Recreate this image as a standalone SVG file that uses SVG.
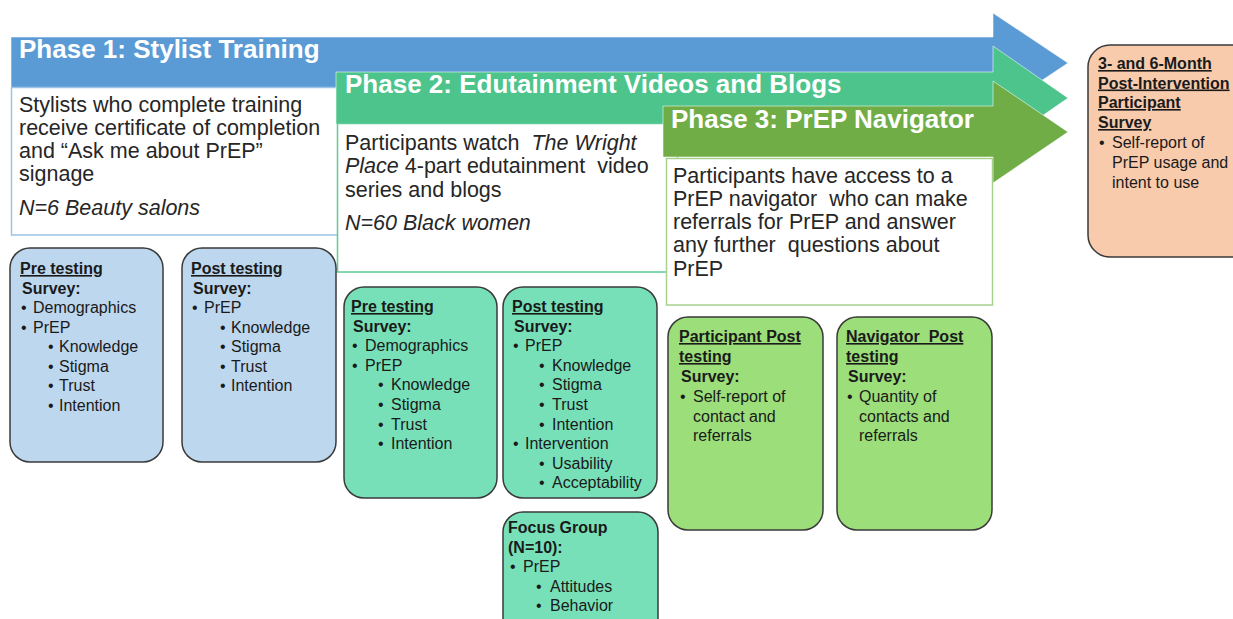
<svg xmlns="http://www.w3.org/2000/svg" width="1233" height="619" viewBox="0 0 1233 619">
  <style>
    .title { font-family: "Liberation Sans", Arial, sans-serif; font-weight: bold; font-size: 26px; fill: #ffffff; }
    .body { font-family: "Liberation Sans", Arial, sans-serif; font-size: 21.5px; fill: #262626; }
    .it { font-style: italic; }
    .sm { font-family: "Liberation Sans", Arial, sans-serif; font-size: 16px; fill: #1a1a1a; }
    .hd { font-weight: bold; }
    .ul { text-decoration: underline; }
    .card { stroke: #3a3a3a; stroke-width: 1.5; }
    .arrow { stroke: #ffffff; stroke-opacity: 0.55; stroke-width: 1; }
  </style>

  <rect width="1233" height="619" fill="#ffffff"/>

  <!-- Phase arrows and their description panels (drawn back to front) -->
  <g id="connectors">
    <path class="arrow" d="M11,37 H993 V13 L1068,63 L993,113 V89 H11 Z" fill="#5B9BD5"/>
  </g>

  <g id="phase1">
    <rect x="11.5" y="87.5" width="340" height="147.5" fill="#ffffff" stroke="#9DC3E6" stroke-width="1.5"/>
    <text class="title" x="19" y="58">Phase 1: Stylist Training</text>
    <text class="body" x="19" y="112">Stylists who complete training</text>
    <text class="body" x="19" y="135">receive certificate of completion</text>
    <text class="body" x="19" y="158">and “Ask me about PrEP”</text>
    <text class="body" x="19" y="181">signage</text>
    <text class="body it" x="19" y="215">N=6 Beauty salons</text>
  </g>

  <g id="phase2-arrow">
    <path class="arrow" d="M336,72 H993 V46 L1068,98 L993,150 V124 H336 Z" fill="#4DC48B"/>
  </g>

  <g id="phase2">
    <rect x="337.5" y="123.5" width="340" height="148.5" fill="#ffffff" stroke="#5CCB95" stroke-width="1.5"/>
    <text class="title" x="345" y="93">Phase 2: Edutainment Videos and Blogs</text>
    <text class="body" x="345" y="150" xml:space="preserve">Participants watch  <tspan class="it">The Wright</tspan></text>
    <text class="body" x="345" y="173" xml:space="preserve"><tspan class="it">Place</tspan> 4-part edutainment  video</text>
    <text class="body" x="345" y="197">series and blogs</text>
    <text class="body it" x="345" y="230">N=60 Black women</text>
  </g>

  <g id="phase3-arrow">
    <path class="arrow" d="M663,106 H993 V81 L1068,132 L993,183 V157 H663 Z" fill="#70AD47"/>
  </g>

  <g id="phase3">
    <rect x="666.5" y="158.5" width="326" height="146.5" fill="#ffffff" stroke="#A9D18E" stroke-width="1.5"/>
    <text class="title" x="671" y="128">Phase 3: PrEP Navigator</text>
    <text class="body" x="673" y="183">Participants have access to a</text>
    <text class="body" x="673" y="206" xml:space="preserve">PrEP navigator  who can make</text>
    <text class="body" x="673" y="229">referrals for PrEP and answer</text>
    <text class="body" x="673" y="252" xml:space="preserve">any further  questions about</text>
    <text class="body" x="673" y="276">PrEP</text>
  </g>

  <!-- Follow-up survey -->
  <g id="followup">
    <rect class="card" x="1088" y="45" width="170" height="212" rx="22" fill="#F8CBAD"/>
    <text class="sm hd ul" x="1098" y="69">3- and 6-Month</text>
    <text class="sm hd ul" x="1098" y="88.5">Post-Intervention</text>
    <text class="sm hd ul" x="1098" y="108">Participant</text>
    <text class="sm hd ul" x="1098" y="128">Survey</text>
    <text class="sm" x="1099" y="148">•</text>
    <text class="sm" x="1112" y="148">Self-report of</text>
    <text class="sm" x="1112" y="168">PrEP usage and</text>
    <text class="sm" x="1112" y="188">intent to use</text>
  </g>

  <!-- Phase 1 measures -->
  <g id="p1-pre">
    <rect class="card" x="10" y="248" width="153" height="214" rx="20" fill="#BDD7EE"/>
    <text class="sm hd ul" x="20" y="274">Pre testing</text>
    <text class="sm hd" x="22" y="293.5">Survey:</text>
    <text class="sm" x="21" y="313">•</text>
    <text class="sm" x="33" y="313">Demographics</text>
    <text class="sm" x="21" y="332.5">•</text>
    <text class="sm" x="33" y="332.5">PrEP</text>
    <text class="sm" x="48" y="352">•</text>
    <text class="sm" x="59" y="352">Knowledge</text>
    <text class="sm" x="48" y="371.5">•</text>
    <text class="sm" x="59" y="371.5">Stigma</text>
    <text class="sm" x="48" y="391">•</text>
    <text class="sm" x="59" y="391">Trust</text>
    <text class="sm" x="48" y="410.5">•</text>
    <text class="sm" x="59" y="410.5">Intention</text>
  </g>

  <g id="p1-post">
    <rect class="card" x="182" y="248" width="154" height="214" rx="20" fill="#BDD7EE"/>
    <text class="sm hd ul" x="191" y="274">Post testing</text>
    <text class="sm hd" x="193" y="293.5">Survey:</text>
    <text class="sm" x="192" y="313">•</text>
    <text class="sm" x="204" y="313">PrEP</text>
    <text class="sm" x="220" y="332.5">•</text>
    <text class="sm" x="231" y="332.5">Knowledge</text>
    <text class="sm" x="220" y="352">•</text>
    <text class="sm" x="231" y="352">Stigma</text>
    <text class="sm" x="220" y="371.5">•</text>
    <text class="sm" x="231" y="371.5">Trust</text>
    <text class="sm" x="220" y="391">•</text>
    <text class="sm" x="231" y="391">Intention</text>
  </g>

  <!-- Phase 2 measures -->
  <g id="p2-pre">
    <rect class="card" x="344" y="287" width="153" height="211" rx="20" fill="#77E0B8"/>
    <text class="sm hd ul" x="351" y="312">Pre testing</text>
    <text class="sm hd" x="353" y="331.6">Survey:</text>
    <text class="sm" x="352" y="351.2">•</text>
    <text class="sm" x="365" y="351.2">Demographics</text>
    <text class="sm" x="352" y="370.8">•</text>
    <text class="sm" x="365" y="370.8">PrEP</text>
    <text class="sm" x="378" y="390.4">•</text>
    <text class="sm" x="391" y="390.4">Knowledge</text>
    <text class="sm" x="378" y="410">•</text>
    <text class="sm" x="391" y="410">Stigma</text>
    <text class="sm" x="378" y="429.6">•</text>
    <text class="sm" x="391" y="429.6">Trust</text>
    <text class="sm" x="378" y="449.2">•</text>
    <text class="sm" x="391" y="449.2">Intention</text>
  </g>

  <g id="p2-post">
    <rect class="card" x="503" y="287" width="154" height="211" rx="20" fill="#77E0B8"/>
    <text class="sm hd ul" x="512" y="312">Post testing</text>
    <text class="sm hd" x="514" y="331.6">Survey:</text>
    <text class="sm" x="513" y="351.2">•</text>
    <text class="sm" x="525" y="351.2">PrEP</text>
    <text class="sm" x="539" y="370.8">•</text>
    <text class="sm" x="552" y="370.8">Knowledge</text>
    <text class="sm" x="539" y="390.4">•</text>
    <text class="sm" x="552" y="390.4">Stigma</text>
    <text class="sm" x="539" y="410">•</text>
    <text class="sm" x="552" y="410">Trust</text>
    <text class="sm" x="539" y="429.6">•</text>
    <text class="sm" x="552" y="429.6">Intention</text>
    <text class="sm" x="513" y="449.2">•</text>
    <text class="sm" x="525" y="449.2">Intervention</text>
    <text class="sm" x="539" y="468.8">•</text>
    <text class="sm" x="552" y="468.8">Usability</text>
    <text class="sm" x="539" y="488.4">•</text>
    <text class="sm" x="552" y="488.4">Acceptability</text>
  </g>

  <g id="p2-focus">
    <rect class="card" x="503" y="512" width="155" height="130" rx="20" fill="#77E0B8"/>
    <text class="sm hd" x="508" y="533">Focus Group</text>
    <text class="sm hd" x="508" y="553">(N=10):</text>
    <text class="sm" x="510" y="572">•</text>
    <text class="sm" x="523" y="572">PrEP</text>
    <text class="sm" x="536" y="592">•</text>
    <text class="sm" x="550" y="592">Attitudes</text>
    <text class="sm" x="536" y="611">•</text>
    <text class="sm" x="550" y="611">Behavior</text>
  </g>

  <!-- Phase 3 measures -->
  <g id="p3-participant">
    <rect class="card" x="668" y="317" width="155" height="213" rx="20" fill="#9CDE79"/>
    <text class="sm hd ul" x="679" y="342">Participant Post</text>
    <text class="sm hd ul" x="679" y="362">testing</text>
    <text class="sm hd" x="681" y="381.5">Survey:</text>
    <text class="sm" x="680" y="402">•</text>
    <text class="sm" x="693" y="402">Self-report of</text>
    <text class="sm" x="693" y="422">contact and</text>
    <text class="sm" x="693" y="441">referrals</text>
  </g>

  <g id="p3-navigator">
    <rect class="card" x="837" y="317" width="155" height="213" rx="20" fill="#9CDE79"/>
    <text class="sm hd ul" x="846" y="342" xml:space="preserve">Navigator  Post</text>
    <text class="sm hd ul" x="846" y="362">testing</text>
    <text class="sm hd" x="848" y="381.5">Survey:</text>
    <text class="sm" x="847" y="402">•</text>
    <text class="sm" x="859" y="402">Quantity of</text>
    <text class="sm" x="859" y="422">contacts and</text>
    <text class="sm" x="859" y="441">referrals</text>
  </g>
</svg>
